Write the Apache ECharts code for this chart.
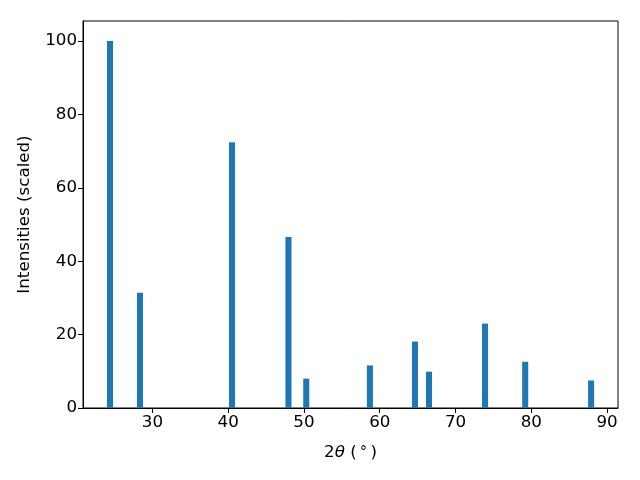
<!DOCTYPE html>
<html>
<head>
<meta charset="utf-8">
<script src="https://cdn.jsdelivr.net/npm/echarts@6/dist/echarts.min.js"></script>
<style>html,body{margin:0;padding:0;background:#fff}#c{width:640px;height:480px}</style>
</head>
<body>
<div id="c"></div>
<script>
var positions = [24.4, 28.35, 40.5, 47.95, 50.3, 58.7, 64.65, 66.5, 73.9, 79.2, 87.9];
var intensities = [100, 31.4, 72.4, 46.6, 8.0, 11.6, 18.1, 9.9, 23.0, 12.6, 7.5];
var barWidthUnits = 0.8;
var xTicks = [30, 40, 50, 60, 70, 80, 90];
var yTicks = [0, 20, 40, 60, 80, 100];

var data = positions.map(function (p, i) { return [p, intensities[i]]; });
var font = 'DejaVu Sans';
var chart = echarts.init(document.getElementById('c'), null, {renderer: 'canvas'});
chart.setOption({
  animation: false,
  grid: {left: 83, right: 22, top: 21, bottom: 72, show: true, borderColor: '#000', borderWidth: 1, backgroundColor: 'transparent'},
  xAxis: {
    type: 'value', min: 20.83, max: 91.45,
    interval: 10,
    axisLine: {show: true, lineStyle: {color: '#000', width: 1}},
    axisTick: {show: true, length: 5, lineStyle: {color: '#000'}, customValues: xTicks},
    axisLabel: {color: '#000', fontSize: 16.7, fontFamily: font, margin: 6, customValues: xTicks},
    splitLine: {show: false},
    name: '2{i|θ} (\u2009{d|°}\u2009)',
    nameLocation: 'middle', nameGap: 36,
    nameTextStyle: {color: '#000', fontSize: 16.7, fontFamily: font,
      rich: {i: {fontStyle: 'italic', fontSize: 16.7, fontFamily: font, color: '#000'},
             d: {fontSize: 14, fontFamily: font, color: '#000'}}}
  },
  yAxis: {
    type: 'value', min: 0, max: 105.45,
    axisLine: {show: true, lineStyle: {color: '#000', width: 1}},
    axisTick: {show: true, length: 5, lineStyle: {color: '#000'}, customValues: yTicks},
    axisLabel: {color: '#000', fontSize: 16.7, fontFamily: font, margin: 6, customValues: yTicks},
    splitLine: {show: false},
    name: 'Intensities (scaled)', nameLocation: 'middle', nameGap: 50,
    nameTextStyle: {color: '#000', fontSize: 16.7, fontFamily: font}
  },
  series: [{
    type: 'custom',
    data: data,
    renderItem: function (params, api) {
      var x = api.value(0), y = api.value(1);
      var p0 = api.coord([x - barWidthUnits / 2, y]);
      var p1 = api.coord([x + barWidthUnits / 2, 0]);
      return {type: 'rect', shape: {x: p0[0], y: p0[1], width: p1[0] - p0[0], height: p1[1] - p0[1]},
        style: {fill: '#1f77b4'}};
    },
    encode: {x: 0, y: 1}
  }]
});
</script>
</body>
</html>
